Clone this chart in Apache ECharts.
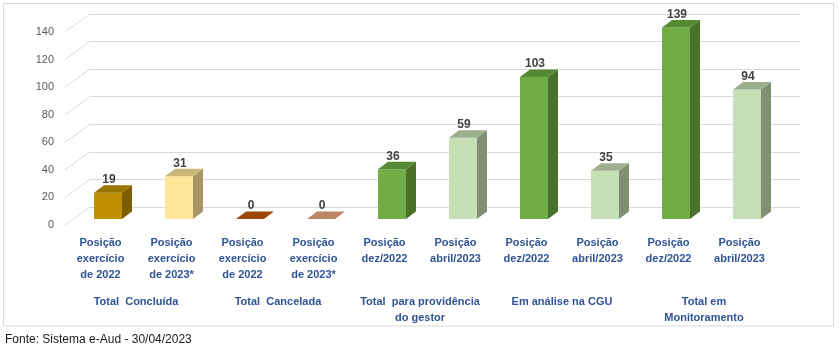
<!DOCTYPE html>
<html>
<head>
<meta charset="utf-8">
<script src="https://cdn.jsdelivr.net/npm/echarts/dist/echarts.min.js"></script>
<style>
html,body{margin:0;padding:0;background:#fff;}
#chart{width:839px;height:355px;}
</style>
</head>
<body>
<div id="chart"></div>
<script>
// ---- data ----
const categories = [
  'Posição\nexercício\nde 2022', 'Posição\nexercício\nde 2023*',
  'Posição\nexercício\nde 2022', 'Posição\nexercício\nde 2023*',
  'Posição\ndez/2022', 'Posição\nabril/2023',
  'Posição\ndez/2022', 'Posição\nabril/2023',
  'Posição\ndez/2022', 'Posição\nabril/2023'
];
const groups = [
  'Total  Concluída',
  'Total  Cancelada',
  'Total  para providência\ndo gestor',
  'Em análise na CGU',
  'Total em\nMonitoramento'
];
const values = [19, 31, 0, 0, 36, 59, 103, 35, 139, 94];
const yTicks = [0, 20, 40, 60, 80, 100, 120, 140];
const footer = 'Fonte: Sistema e-Aud - 30/04/2023';

// ---- styles ----
const palette = [
  {front:'#BF8F00', top:'#9A7400', side:'#7C5D00'},
  {front:'#FFE699', top:'#C9B679', side:'#A69666'},
  {front:'#9E480E', top:'#9C4609', side:'#7A3608'},
  {front:'#C0876A', top:'#BC8566', side:'#9A6A52'},
  {front:'#70AD47', top:'#558A33', side:'#4A7129'},
  {front:'#C5E0B4', top:'#9DAF8E', side:'#808F72'},
  {front:'#70AD47', top:'#558A33', side:'#4A7129'},
  {front:'#C5E0B4', top:'#9DAF8E', side:'#808F72'},
  {front:'#70AD47', top:'#558A33', side:'#4A7129'},
  {front:'#C5E0B4', top:'#9DAF8E', side:'#808F72'}
];
const DEPTH_X = 10, DEPTH_Y = -7.5;       // bar depth
const WALL_X = 25, WALL_Y = -18;          // floor/wall depth
const FONT = 'Liberation Sans';
const yMin = yTicks[0], yMax = yTicks[yTicks.length - 1], yStep = yTicks[1] - yTicks[0];

const chart = echarts.init(document.getElementById('chart'), null, {renderer: 'canvas'});

const option = {
  animation: false,
  textStyle: {fontFamily: FONT},
  title: {
    text: footer, left: 5, top: 334, padding: 0,
    textStyle: {fontSize: 12, fontWeight: 'normal', color: '#1A1A1A', fontFamily: FONT}
  },
  graphic: [{
    type: 'rect', silent: true, z: -1,
    shape: {x: 3.5, y: 3.5, width: 830, height: 322.5},
    style: {fill: 'none', stroke: '#D9D9D9', lineWidth: 1}
  }],
  grid: [
    {left: 90, top: 14, width: 710, height: 193},     // back wall
    {left: 72.5, top: 26, width: 710, height: 193},   // bar plane
    {left: 65, top: 32, width: 710, height: 193}      // front plane
  ],
  xAxis: [
    {type: 'category', gridIndex: 0, data: categories, show: false},
    {type: 'category', gridIndex: 1, data: categories, show: false},
    {type: 'category', gridIndex: 2, data: categories,
      axisLine: {show: false}, axisTick: {show: false},
      axisLabel: {interval: 0, margin: 10, color: '#2F5496', fontWeight: 'bold',
        fontSize: 11, lineHeight: 16, fontFamily: FONT}},
    {type: 'category', gridIndex: 2, data: groups, position: 'bottom', offset: 59,
      axisLine: {show: false}, axisTick: {show: false},
      axisLabel: {interval: 0, margin: 10, color: '#2F5496', fontWeight: 'bold',
        fontSize: 11, lineHeight: 16, fontFamily: FONT}}
  ],
  yAxis: [
    {type: 'value', gridIndex: 0, min: yMin, max: yMax, interval: yStep,
      axisLine: {show: false}, axisTick: {show: false}, axisLabel: {show: false},
      splitLine: {show: true, lineStyle: {color: '#D9D9D9', width: 1}}},
    {type: 'value', gridIndex: 1, min: yMin, max: yMax, interval: yStep, show: false,
      splitLine: {show: false}},
    {type: 'value', gridIndex: 2, min: yMin, max: yMax, interval: yStep,
      axisLine: {show: false}, axisTick: {show: false},
      splitLine: {show: false},
      axisLabel: {margin: 11, color: '#595959', fontSize: 11, fontFamily: FONT}}
  ],
  series: [
    {
      type: 'custom', xAxisIndex: 2, yAxisIndex: 2, silent: true, z: 1,
      data: yTicks.map(v => [0, v]),
      renderItem: function (params, api) {
        const y = api.coord([0, api.value(1)])[1];
        const x = params.coordSys.x;
        return {
          type: 'line',
          shape: {x1: x, y1: y, x2: x + WALL_X, y2: y + WALL_Y},
          style: {stroke: '#D9D9D9', lineWidth: 1}
        };
      }
    },
    {
      type: 'custom', xAxisIndex: 1, yAxisIndex: 1, silent: true, z: 3, clip: false,
      data: values.map((v, i) => [i, v]),
      renderItem: function (params, api) {
        const i = api.value(0), v = api.value(1);
        const topPt = api.coord([i, v]);
        const basePt = api.coord([i, 0]);
        const w = api.size([1, 0])[0] * 0.394;
        const x0 = topPt[0] - w / 2, x1 = topPt[0] + w / 2;
        const yT = topPt[1], yB = basePt[1];
        const c = palette[i];
        const children = [];
        if (yB - yT > 0.5) {
          children.push({type: 'rect', shape: {x: x0, y: yT, width: w, height: yB - yT},
            style: {fill: c.front}});
          children.push({type: 'polygon', shape: {points: [
            [x1, yT], [x1 + DEPTH_X, yT + DEPTH_Y], [x1 + DEPTH_X, yB + DEPTH_Y], [x1, yB]]},
            style: {fill: c.side}});
        }
        children.push({type: 'polygon', shape: {points: [
          [x0, yT], [x0 + DEPTH_X, yT + DEPTH_Y], [x1 + DEPTH_X, yT + DEPTH_Y], [x1, yT]]},
          style: {fill: c.top}});
        children.push({type: 'text', style: {
          text: String(v), x: topPt[0] + 1, y: yT - 13,
          align: 'center', verticalAlign: 'middle',
          font: 'bold 12px "' + FONT + '"', fill: '#404040'}});
        return {type: 'group', children: children};
      }
    }
  ]
};
chart.setOption(option);
</script>
</body>
</html>
